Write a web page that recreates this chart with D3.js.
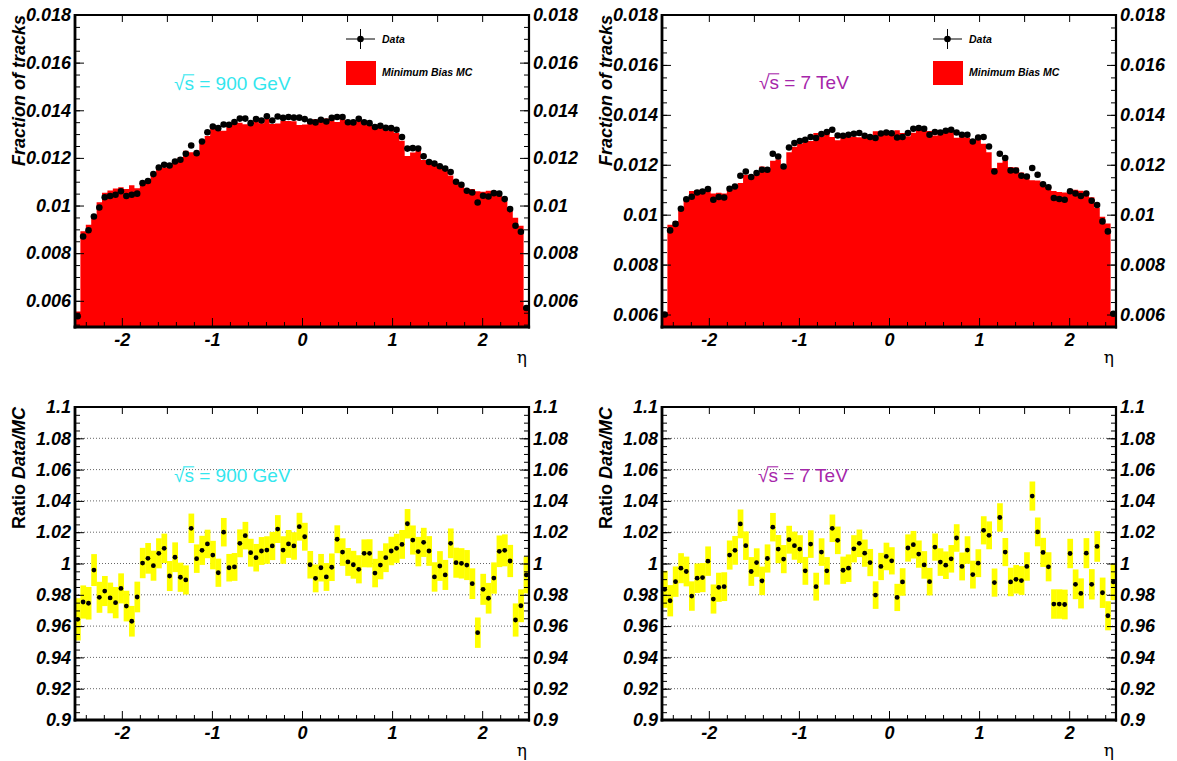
<!DOCTYPE html>
<html><head><meta charset="utf-8">
<script src="https://cdn.jsdelivr.net/npm/d3@7"></script>
<style>
body{margin:0;background:#fff;}
svg{display:block;}
text{font-family:"Liberation Sans",Arial,Helvetica,sans-serif;}
</style></head><body>
<svg id="c" width="1177" height="761"></svg>
<script>
// pseudorapidity binning
const etaRange = [-2.52, 2.52];
const nBins = 84;

const xTicks = [-2, -1, 0, 1, 2];
const xTickLabels = ["-2", "-1", "0", "1", "2"];
const distTicks = [0.006, 0.008, 0.010, 0.012, 0.014, 0.016, 0.018];
const distTickLabels = ["0.006", "0.008", "0.01", "0.012", "0.014", "0.016", "0.018"];
const ratioTicks = [0.90, 0.92, 0.94, 0.96, 0.98, 1.00, 1.02, 1.04, 1.06, 1.08, 1.10];
const ratioTickLabels = ["0.9", "0.92", "0.94", "0.96", "0.98", "1", "1.02", "1.04", "1.06", "1.08", "1.1"];

// sqrt(s) = 900 GeV
const data900 = [
0.00535,0.00870,0.00896,0.00954,0.00992,0.01035,0.01040,0.01045,0.01060,0.01040,
0.01045,0.01050,0.01094,0.01103,0.01132,0.01160,0.01171,0.01168,0.01185,0.01192,
0.01217,0.01252,0.01220,0.01269,0.01308,0.01332,0.01325,0.01340,0.01339,0.01351,
0.01365,0.01365,0.01346,0.01363,0.01357,0.01375,0.01357,0.01374,0.01368,0.01372,
0.01369,0.01369,0.01363,0.01353,0.01349,0.01360,0.01353,0.01368,0.01372,0.01372,
0.01350,0.01349,0.01364,0.01350,0.01346,0.01330,0.01335,0.01326,0.01325,0.01318,
0.01288,0.01239,0.01241,0.01239,0.01207,0.01183,0.01176,0.01165,0.01155,0.01141,
0.01100,0.01087,0.01062,0.01055,0.01013,0.01041,0.01038,0.01052,0.01050,0.01027,
0.00985,0.00915,0.00890,0.00570];
const mc900 = [
0.00555,0.00892,0.00919,0.00958,0.01014,0.01054,0.01063,0.01072,0.01077,0.01069,
0.01085,0.01073,0.01094,0.01099,0.01134,0.01153,0.01160,0.01177,0.01180,0.01203,
0.01230,0.01224,0.01216,0.01258,0.01292,0.01325,0.01333,0.01314,0.01343,0.01354,
0.01348,0.01341,0.01337,0.01358,0.01346,0.01363,0.01342,0.01344,0.01356,0.01355,
0.01354,0.01338,0.01340,0.01354,0.01362,0.01364,0.01365,0.01371,0.01351,0.01362,
0.01349,0.01350,0.01369,0.01341,0.01337,0.01338,0.01336,0.01321,0.01314,0.01305,
0.01272,0.01208,0.01223,0.01230,0.01191,0.01174,0.01186,0.01167,0.01163,0.01126,
0.01099,0.01087,0.01063,0.01069,0.01060,0.01058,0.01062,0.01062,0.01042,0.01018,
0.00983,0.00949,0.00915,0.00574];
const ratio900 = [
0.9643,0.9754,0.9746,0.9958,0.9784,0.9824,0.9780,0.9750,0.9841,0.9728,
0.9631,0.9786,1.0003,1.0033,0.9986,1.0065,1.0097,0.9920,1.0040,0.9912,
0.9895,1.0225,1.0031,1.0084,1.0125,1.0054,0.9941,1.0200,0.9973,0.9978,
1.0129,1.0178,1.0069,1.0037,1.0080,1.0086,1.0112,1.0220,1.0086,1.0125,
1.0112,1.0235,1.0171,0.9992,0.9905,0.9973,0.9914,0.9976,1.0155,1.0073,
1.0010,0.9992,0.9963,1.0065,1.0065,0.9939,0.9990,1.0037,1.0080,1.0097,
1.0122,1.0254,1.0150,1.0076,1.0135,1.0080,0.9914,0.9984,0.9927,1.0129,
1.0005,1.0001,0.9990,0.9871,0.9558,0.9835,0.9778,0.9907,1.0078,1.0084,
1.0016,0.9639,0.9730,0.9927];
const err900 = [
0.0135,0.0106,0.0104,0.0102,0.0099,0.0096,0.0098,0.0100,0.0096,0.0098,
0.0098,0.0098,0.0097,0.0098,0.0096,0.0096,0.0094,0.0096,0.0095,0.0093,
0.0093,0.0094,0.0091,0.0093,0.0091,0.0091,0.0090,0.0091,0.0088,0.0089,
0.0089,0.0088,0.0089,0.0088,0.0089,0.0088,0.0090,0.0089,0.0088,0.0089,
0.0088,0.0089,0.0089,0.0088,0.0089,0.0088,0.0089,0.0088,0.0089,0.0088,
0.0089,0.0089,0.0090,0.0089,0.0090,0.0091,0.0091,0.0092,0.0091,0.0093,
0.0092,0.0094,0.0093,0.0094,0.0093,0.0095,0.0094,0.0095,0.0096,0.0095,
0.0096,0.0097,0.0096,0.0098,0.0097,0.0099,0.0098,0.0100,0.0101,0.0102,
0.0103,0.0106,0.0105,0.0118];

// sqrt(s) = 7 TeV
const data7 = [
0.00600,0.00937,0.00963,0.01024,0.01062,0.01072,0.01089,0.01093,0.01103,0.01060,
0.01071,0.01069,0.01104,0.01113,0.01156,0.01173,0.01151,0.01167,0.01180,0.01180,
0.01244,0.01233,0.01193,0.01269,0.01287,0.01295,0.01300,0.01311,0.01307,0.01323,
0.01331,0.01340,0.01317,0.01316,0.01320,0.01324,0.01327,0.01316,0.01311,0.01307,
0.01325,0.01329,0.01326,0.01309,0.01311,0.01327,0.01344,0.01347,0.01344,0.01320,
0.01331,0.01329,0.01336,0.01340,0.01329,0.01320,0.01320,0.01293,0.01309,0.01311,
0.01273,0.01173,0.01244,0.01227,0.01177,0.01177,0.01156,0.01153,0.01187,0.01160,
0.01122,0.01110,0.01067,0.01063,0.01060,0.01094,0.01085,0.01075,0.01085,0.01056,
0.01039,0.00973,0.00933,0.00603];
const mc7 = [
0.00610,0.00960,0.00974,0.01027,0.01067,0.01095,0.01099,0.01103,0.01101,0.01085,
0.01088,0.01085,0.01098,0.01104,0.01127,0.01160,0.01157,0.01166,0.01193,0.01176,
0.01216,0.01222,0.01190,0.01250,0.01272,0.01283,0.01306,0.01295,0.01327,0.01313,
0.01337,0.01311,0.01298,0.01322,0.01324,0.01312,0.01310,0.01307,0.01310,0.01334,
0.01328,0.01323,0.01324,0.01338,0.01327,0.01314,0.01328,0.01339,0.01345,0.01335,
0.01317,0.01328,0.01337,0.01336,0.01308,0.01323,0.01309,0.01302,0.01309,0.01284,
0.01250,0.01187,0.01208,0.01218,0.01191,0.01189,0.01169,0.01155,0.01138,0.01137,
0.01114,0.01112,0.01095,0.01091,0.01089,0.01087,0.01100,0.01096,0.01078,0.01070,
0.01028,0.00992,0.00965,0.00610];
const ratio7 = [
0.9835,0.9762,0.9884,0.9970,0.9949,0.9792,0.9906,0.9910,1.0015,0.9773,
0.9848,0.9852,1.0054,1.0084,1.0253,1.0114,0.9949,1.0006,0.9889,1.0032,
1.0232,1.0092,1.0028,1.0152,1.0114,1.0092,0.9953,1.0124,0.9852,1.0073,
0.9953,1.0225,1.0148,0.9957,0.9970,1.0094,1.0129,1.0066,1.0006,0.9798,
0.9981,1.0045,1.0017,0.9783,0.9882,1.0099,1.0120,1.0060,0.9991,0.9884,
1.0105,1.0009,0.9989,1.0030,1.0163,0.9981,1.0086,0.9929,1.0002,1.0212,
1.0180,0.9878,1.0294,1.0073,0.9882,0.9899,0.9891,0.9981,1.0431,1.0202,
1.0071,0.9979,0.9741,0.9741,0.9738,1.0064,0.9867,0.9809,1.0066,0.9867,
1.0109,0.9813,0.9666,0.9882];
const err7 = [
0.0118,0.0100,0.0097,0.0096,0.0095,0.0094,0.0094,0.0093,0.0094,0.0093,
0.0093,0.0092,0.0093,0.0092,0.0092,0.0091,0.0092,0.0091,0.0091,0.0090,
0.0091,0.0090,0.0090,0.0089,0.0090,0.0089,0.0089,0.0088,0.0089,0.0088,
0.0088,0.0088,0.0088,0.0087,0.0088,0.0087,0.0088,0.0087,0.0087,0.0088,
0.0087,0.0088,0.0087,0.0087,0.0088,0.0087,0.0088,0.0087,0.0088,0.0088,
0.0087,0.0088,0.0088,0.0088,0.0088,0.0089,0.0088,0.0089,0.0089,0.0090,
0.0089,0.0090,0.0091,0.0090,0.0091,0.0091,0.0092,0.0091,0.0093,0.0092,
0.0093,0.0093,0.0094,0.0094,0.0095,0.0094,0.0095,0.0096,0.0096,0.0097,
0.0098,0.0097,0.0093,0.0116];

const svg = d3.select("#c");
const binW = (etaRange[1] - etaRange[0]) / nBins;
const edge = i => etaRange[0] + i * binW;
const centre = i => etaRange[0] + (i + 0.5) * binW;

const labelFont = 'bold italic 18px "Liberation Sans", Arial, sans-serif';

function sqrtLabel(g, x, y, rest, color, size) {
  const t = g.append("text").attr("x", x).attr("y", y)
    .attr("fill", color).style("font-size", size + "px");
  t.append("tspan").text("\u221A");
  t.append("tspan").text("s");
  t.append("tspan").text(rest);
  const node = t.node();
  const ext = node.getExtentOfChar(1);
  const r0 = node.getExtentOfChar(0);
  g.append("line")
    .attr("x1", r0.x + r0.width - 1.2).attr("x2", ext.x + ext.width + 0.3)
    .attr("y1", y - size * 0.80).attr("y2", y - size * 0.80)
    .attr("stroke", color).attr("stroke-width", 1.1);
}

function styleAxis(sel) {
  sel.select(".domain").remove();
  sel.selectAll(".tick line").attr("stroke", "#000").attr("stroke-width", 1);
  sel.selectAll(".tick text").style("font", labelFont).attr("fill", "#000");
}

function drawPanel(cfg) {
  const g = svg.append("g");
  const x = d3.scaleLinear().domain(etaRange).range([cfg.x0, cfg.x1]);
  const y = d3.scaleLinear().domain(cfg.yDomain).range([cfg.y1, cfg.y0]);
  const clipId = "clip" + cfg.id;
  svg.append("clipPath").attr("id", clipId).append("rect")
    .attr("x", cfg.x0).attr("y", cfg.y0)
    .attr("width", cfg.x1 - cfg.x0).attr("height", cfg.y1 - cfg.y0);
  const plot = g.append("g").attr("clip-path", `url(#${clipId})`);
  const idx = d3.range(nBins);

  if (cfg.type === "dist") {
    const pts = idx.map(i => ({e: edge(i), v: cfg.mc[i]}));
    pts.push({e: edge(nBins), v: cfg.mc[nBins - 1]});
    const area = d3.area().curve(d3.curveStepAfter)
      .x(d => x(d.e)).y0(cfg.y1).y1(d => y(d.v));
    plot.append("path").datum(pts).attr("d", area).attr("fill", "#ff0000");
    plot.selectAll("circle").data(idx).join("circle")
      .attr("cx", i => x(centre(i))).attr("cy", i => y(cfg.data[i]))
      .attr("r", 3.3).attr("fill", "#000");
  } else {
    // dotted grid
    g.insert("g", ":first-child").selectAll("line")
      .data(cfg.ticks.slice(1, -1)).join("line")
      .attr("x1", cfg.x0).attr("x2", cfg.x1)
      .attr("y1", d => y(d)).attr("y2", d => y(d))
      .attr("stroke", "#666").attr("stroke-width", 1)
      .attr("stroke-dasharray", "1,2");
    plot.selectAll("rect.err").data(idx).join("rect").attr("class", "err")
      .attr("x", i => x(edge(i))).attr("width", i => x(edge(i + 1)) - x(edge(i)) + 0.3)
      .attr("y", i => y(cfg.ratio[i] + cfg.err[i]))
      .attr("height", i => y(cfg.ratio[i] - cfg.err[i]) - y(cfg.ratio[i] + cfg.err[i]))
      .attr("fill", "#ffff00");
    plot.selectAll("circle").data(idx).join("circle")
      .attr("cx", i => x(centre(i))).attr("cy", i => y(cfg.ratio[i]))
      .attr("r", 2.4).attr("fill", "#000");
  }

  // axes: y left/right with minor ticks
  const fmtY = d => cfg.tickLabels[cfg.ticks.indexOf(d)];
  g.append("g").attr("transform", `translate(${cfg.x0},0)`)
    .call(d3.axisLeft(y).tickValues(cfg.minor).tickFormat("").tickSize(-5).tickSizeOuter(0)).call(styleAxis);
  g.append("g").attr("transform", `translate(${cfg.x0},0)`)
    .call(d3.axisLeft(y).tickValues(cfg.ticks).tickFormat(fmtY).tickSize(-9).tickPadding(4).tickSizeOuter(0)).call(styleAxis);
  g.append("g").attr("transform", `translate(${cfg.x1},0)`)
    .call(d3.axisRight(y).tickValues(cfg.minor).tickFormat("").tickSize(-5).tickSizeOuter(0)).call(styleAxis);
  g.append("g").attr("transform", `translate(${cfg.x1},0)`)
    .call(d3.axisRight(y).tickValues(cfg.ticks).tickFormat(fmtY).tickSize(-9).tickPadding(4).tickSizeOuter(0)).call(styleAxis);

  // x axes
  const xMinor = d3.range(-24, 25, 2).map(k => k / 10).filter(v => !xTicks.includes(v));
  g.append("g").attr("transform", `translate(0,${cfg.y1})`)
    .call(d3.axisBottom(x).tickValues(xMinor).tickFormat("").tickSize(-5).tickSizeOuter(0)).call(styleAxis);
  g.append("g").attr("transform", `translate(0,${cfg.y1})`)
    .call(d3.axisBottom(x).tickValues(xTicks).tickFormat(d => xTickLabels[xTicks.indexOf(d)])
      .tickSize(-9).tickPadding(6).tickSizeOuter(0)).call(styleAxis);
  g.append("g").attr("transform", `translate(0,${cfg.y0})`)
    .call(d3.axisTop(x).tickValues(d3.range(-4, 5).map(k => k / 2)).tickFormat("").tickSize(-7).tickSizeOuter(0)).call(styleAxis);

  // frame
  g.append("line").attr("x1", cfg.x0).attr("x2", cfg.x1).attr("y1", cfg.y0).attr("y2", cfg.y0)
    .attr("stroke", "#000").attr("stroke-width", 2);
  g.append("line").attr("x1", cfg.x1).attr("x2", cfg.x1).attr("y1", cfg.y0 - 1).attr("y2", cfg.y1 + 1.5)
    .attr("stroke", "#000").attr("stroke-width", 2.2);
  g.append("line").attr("x1", cfg.x0).attr("x2", cfg.x0).attr("y1", cfg.y0 - 1).attr("y2", cfg.y1 + 1.5)
    .attr("stroke", "#000").attr("stroke-width", 2.8);
  g.append("line").attr("x1", cfg.x0 - 1.4).attr("x2", cfg.x1 + 1.1).attr("y1", cfg.y1).attr("y2", cfg.y1)
    .attr("stroke", "#000").attr("stroke-width", 3);

  // axis titles
  const yt = g.append("text")
    .attr("transform", `translate(${cfg.x0 - 50},${cfg.y0}) rotate(-90)`)
    .attr("text-anchor", "end").style("font", labelFont);
  cfg.yTitle.forEach(p => yt.append("tspan").text(p.t).style("font-style", p.italic ? "italic" : "normal"));
  g.append("text").attr("x", cfg.x1 - 2).attr("y", cfg.y1 + 36)
    .attr("text-anchor", "end")
    .style("font-family", '"DejaVu Serif", "Liberation Serif", serif').style("font-size", "17px")
    .text("\u03B7");

  sqrtLabel(g, cfg.labelX, cfg.y0 + cfg.labelDy, cfg.energy, cfg.color, 19);

  if (cfg.type === "dist") {
    const lx = cfg.x0 + 271;
    const lg = g.append("g");
    lg.append("line").attr("x1", lx).attr("x2", lx + 29).attr("y1", 39).attr("y2", 39).attr("stroke", "#000");
    lg.append("line").attr("x1", lx + 14.5).attr("x2", lx + 14.5).attr("y1", 29).attr("y2", 49).attr("stroke", "#000");
    lg.append("circle").attr("cx", lx + 14.5).attr("cy", 39).attr("r", 3.3).attr("fill", "#000");
    lg.append("rect").attr("x", lx).attr("y", 61).attr("width", 30).attr("height", 24).attr("fill", "#ff0000");
    lg.append("text").attr("x", lx + 36).attr("y", 43)
      .style("font", 'bold italic 10.5px "Liberation Sans", Arial, sans-serif').text("Data");
    lg.append("text").attr("x", lx + 36).attr("y", 76)
      .style("font", 'bold italic 10.5px "Liberation Sans", Arial, sans-serif').text("Minimum Bias MC");
  }
}

const minorDist = lo => d3.range(10, 37).map(k => k * 0.0005).filter(v => v >= lo);
const minorRatio = d3.range(180, 221).map(k => k * 0.005);
const fracTitle = [{t: "Fraction of tracks", italic: true}];
const ratioTitle = [{t: "Ratio ", italic: false}, {t: "Data/MC", italic: true}];

drawPanel({id: 1, type: "dist", x0: 75, x1: 529, y0: 15, y1: 327, yDomain: [0.0049, 0.018],
  ticks: distTicks, tickLabels: distTickLabels, minor: minorDist(0.0049),
  data: data900, mc: mc900, yTitle: fracTitle,
  energy: " = 900 GeV", color: "#33e6ee", labelX: 174, labelDy: 75});
drawPanel({id: 2, type: "dist", x0: 662, x1: 1116, y0: 15, y1: 327, yDomain: [0.0055, 0.018],
  ticks: distTicks, tickLabels: distTickLabels, minor: minorDist(0.0055),
  data: data7, mc: mc7, yTitle: fracTitle,
  energy: " = 7 TeV", color: "#a626aa", labelX: 759, labelDy: 74});
drawPanel({id: 3, type: "ratio", x0: 75, x1: 529, y0: 407, y1: 720, yDomain: [0.9, 1.1],
  ticks: ratioTicks, tickLabels: ratioTickLabels, minor: minorRatio,
  ratio: ratio900, err: err900, yTitle: ratioTitle,
  energy: " = 900 GeV", color: "#33e6ee", labelX: 174, labelDy: 75});
drawPanel({id: 4, type: "ratio", x0: 662, x1: 1116, y0: 407, y1: 720, yDomain: [0.9, 1.1],
  ticks: ratioTicks, tickLabels: ratioTickLabels, minor: minorRatio,
  ratio: ratio7, err: err7, yTitle: ratioTitle,
  energy: " = 7 TeV", color: "#a626aa", labelX: 758, labelDy: 75});
</script>
</body></html>
